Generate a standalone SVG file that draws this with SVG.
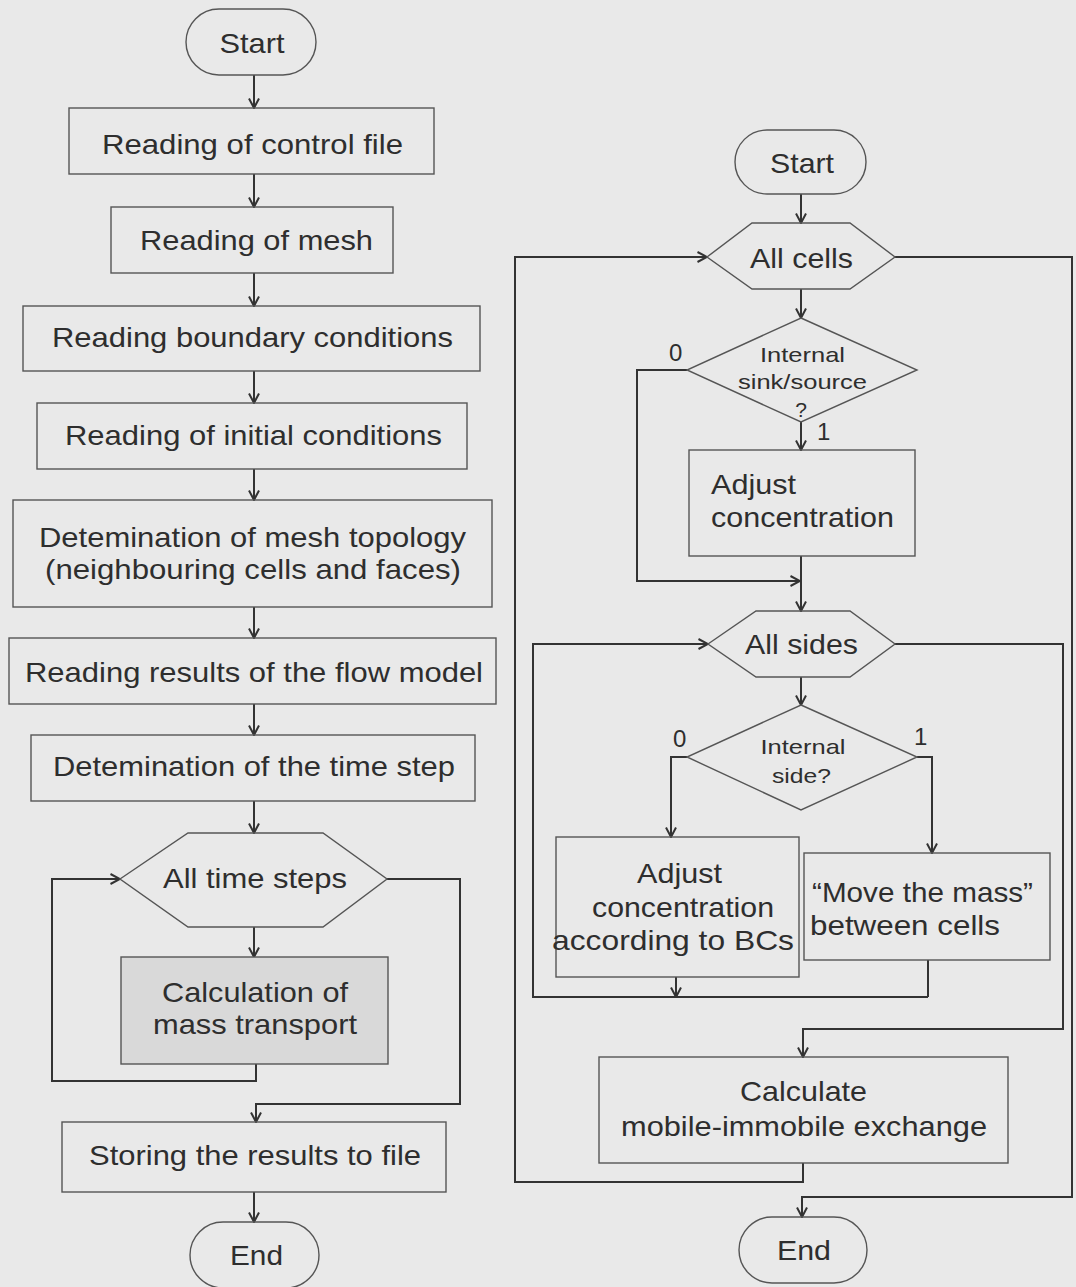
<svg xmlns="http://www.w3.org/2000/svg" width="1076" height="1287" viewBox="0 0 1076 1287">
<defs>
<marker id="arr" viewBox="0 0 12 12" refX="11" refY="6" markerWidth="12" markerHeight="12" markerUnits="userSpaceOnUse" orient="auto">
<path d="M1.5,1 L11,6 L1.5,11" fill="none" stroke="#333" stroke-width="2"/>
</marker>
<style>
.bg{fill:#e9e9e9}
.n{fill:none;stroke:#555;stroke-width:1.4}
.g{fill:#d9d9d9;stroke:#555;stroke-width:1.4}
.c{fill:none;stroke:#333;stroke-width:2}
.ca{fill:none;stroke:#333;stroke-width:2;marker-end:url(#arr)}
text{font-family:"Liberation Sans",Arial,sans-serif;fill:#2e2e2e;font-size:28px}
.m{text-anchor:middle}
.s{font-size:21px}
.d{font-size:24px}
</style>
</defs>
<rect class="bg" x="0" y="0" width="1076" height="1287"/>

<g id="connectors">
<!-- left chart -->
<line class="ca" x1="254" y1="75" x2="254" y2="108"/>
<line class="ca" x1="254" y1="174" x2="254" y2="207"/>
<line class="ca" x1="254" y1="273" x2="254" y2="306"/>
<line class="ca" x1="254" y1="371" x2="254" y2="403"/>
<line class="ca" x1="254" y1="469" x2="254" y2="500"/>
<line class="ca" x1="254" y1="607" x2="254" y2="638"/>
<line class="ca" x1="254" y1="704" x2="254" y2="735"/>
<line class="ca" x1="254" y1="801" x2="254" y2="833"/>
<line class="ca" x1="254" y1="927" x2="254" y2="957"/>
<polyline class="ca" points="256,1064 256,1081 52,1081 52,879 120,879"/>
<polyline class="ca" points="387,879 460,879 460,1104 256,1104 256,1122"/>
<line class="ca" x1="254" y1="1192" x2="254" y2="1222"/>
<!-- right chart -->
<line class="ca" x1="801" y1="194" x2="801" y2="223"/>
<line class="ca" x1="801" y1="289" x2="801" y2="318"/>
<line class="ca" x1="801" y1="422" x2="801" y2="450"/>
<line class="ca" x1="801" y1="556" x2="801" y2="611"/>
<polyline class="ca" points="687,370 637,370 637,581 800,581"/>
<line class="ca" x1="801" y1="677" x2="801" y2="705"/>
<polyline class="ca" points="687,757 671,757 671,837"/>
<polyline class="ca" points="917,757 932,757 932,853"/>
<line class="ca" x1="676" y1="977" x2="676" y2="997"/>
<polyline class="c" points="928,960 928,997"/>
<polyline class="ca" points="928,997 533,997 533,644 708,644"/>
<polyline class="ca" points="895,644 1063,644 1063,1029 803,1029 803,1057"/>
<polyline class="ca" points="803,1163 803,1182 515,1182 515,257 707,257"/>
<polyline class="ca" points="895,257 1072,257 1072,1197 802,1197 802,1217"/>
</g>

<g id="start-left">
<rect class="n" x="186" y="9" width="130" height="66" rx="33"/>
<text class="m" x="252" y="53" textLength="65" lengthAdjust="spacingAndGlyphs">Start</text>
</g>
<g id="read-control">
<rect class="n" x="69" y="108" width="365" height="66"/>
<text class="m" x="252.5" y="154" textLength="301" lengthAdjust="spacingAndGlyphs">Reading of control file</text>
</g>
<g id="read-mesh">
<rect class="n" x="111" y="207" width="282" height="66"/>
<text class="m" x="256.5" y="250" textLength="233" lengthAdjust="spacingAndGlyphs">Reading of mesh</text>
</g>
<g id="read-bc">
<rect class="n" x="23" y="306" width="457" height="65"/>
<text class="m" x="252.5" y="347" textLength="401" lengthAdjust="spacingAndGlyphs">Reading boundary conditions</text>
</g>
<g id="read-ic">
<rect class="n" x="37" y="403" width="430" height="66"/>
<text class="m" x="253.5" y="445" textLength="377" lengthAdjust="spacingAndGlyphs">Reading of initial conditions</text>
</g>
<g id="mesh-topology">
<rect class="n" x="13" y="500" width="479" height="107"/>
<text class="m" x="252.5" y="547" textLength="427" lengthAdjust="spacingAndGlyphs">Detemination of mesh topology</text>
<text class="m" x="253" y="579" textLength="416" lengthAdjust="spacingAndGlyphs">(neighbouring cells and faces)</text>
</g>
<g id="read-flow">
<rect class="n" x="9" y="638" width="487" height="66"/>
<text class="m" x="254" y="682" textLength="458" lengthAdjust="spacingAndGlyphs">Reading results of the flow model</text>
</g>
<g id="time-step">
<rect class="n" x="31" y="735" width="444" height="66"/>
<text class="m" x="254" y="776" textLength="402" lengthAdjust="spacingAndGlyphs">Detemination of the time step</text>
</g>
<g id="all-time-steps">
<polygon class="n" points="120,879 188,833 323,833 387,879 323,927 188,927"/>
<text class="m" x="255" y="888" textLength="184" lengthAdjust="spacingAndGlyphs">All time steps</text>
</g>
<g id="calc-mass">
<rect class="g" x="121" y="957" width="267" height="107"/>
<text class="m" x="255" y="1002" textLength="186" lengthAdjust="spacingAndGlyphs">Calculation of</text>
<text class="m" x="255" y="1034" textLength="204" lengthAdjust="spacingAndGlyphs">mass transport</text>
</g>
<g id="store">
<rect class="n" x="62" y="1122" width="384" height="70"/>
<text class="m" x="255" y="1165" textLength="332" lengthAdjust="spacingAndGlyphs">Storing the results to file</text>
</g>
<g id="end-left">
<rect class="n" x="190" y="1222" width="129" height="66" rx="33"/>
<text class="m" x="256.5" y="1265" textLength="53" lengthAdjust="spacingAndGlyphs">End</text>
</g>

<g id="start-right">
<rect class="n" x="735" y="130" width="131" height="64" rx="32"/>
<text class="m" x="802" y="173" textLength="64" lengthAdjust="spacingAndGlyphs">Start</text>
</g>
<g id="all-cells">
<polygon class="n" points="707,257 752,223 850,223 895,257 850,289 752,289"/>
<text class="m" x="801.5" y="268" textLength="103" lengthAdjust="spacingAndGlyphs">All cells</text>
</g>
<g id="sink-source">
<polygon class="n" points="801,318 917,370 801,422 687,370"/>
<text class="m s" x="802.5" y="362" textLength="85" lengthAdjust="spacingAndGlyphs">Internal</text>
<text class="m s" x="802.5" y="389" textLength="129" lengthAdjust="spacingAndGlyphs">sink/source</text>
<text class="m s" x="801" y="417">?</text>
<text class="d" x="669" y="361">0</text>
<text class="d" x="817" y="440">1</text>
</g>
<g id="adjust-conc">
<rect class="n" x="689" y="450" width="226" height="106"/>
<text x="711" y="494" textLength="85" lengthAdjust="spacingAndGlyphs">Adjust</text>
<text x="711" y="527" textLength="183" lengthAdjust="spacingAndGlyphs">concentration</text>
</g>
<g id="all-sides">
<polygon class="n" points="708,644 756,611 850,611 895,644 850,677 756,677"/>
<text class="m" x="801.5" y="654" textLength="113" lengthAdjust="spacingAndGlyphs">All sides</text>
</g>
<g id="internal-side">
<polygon class="n" points="801,705 917,757 801,810 687,757"/>
<text class="m s" x="803" y="754" textLength="85" lengthAdjust="spacingAndGlyphs">Internal</text>
<text class="m s" x="801.5" y="783" textLength="59" lengthAdjust="spacingAndGlyphs">side?</text>
<text class="d" x="673" y="747">0</text>
<text class="d" x="914" y="745">1</text>
</g>
<g id="adjust-bc">
<rect class="n" x="556" y="837" width="243" height="140"/>
<text class="m" x="679.5" y="883" textLength="85" lengthAdjust="spacingAndGlyphs">Adjust</text>
<text class="m" x="683" y="917" textLength="182" lengthAdjust="spacingAndGlyphs">concentration</text>
<text class="m" x="673" y="950" textLength="242" lengthAdjust="spacingAndGlyphs">according to BCs</text>
</g>
<g id="move-mass">
<rect class="n" x="804" y="853" width="246" height="107"/>
<text x="812" y="902" textLength="221" lengthAdjust="spacingAndGlyphs">“Move the mass”</text>
<text x="810" y="935" textLength="190" lengthAdjust="spacingAndGlyphs">between cells</text>
</g>
<g id="calc-exchange">
<rect class="n" x="599" y="1057" width="409" height="106"/>
<text class="m" x="803.5" y="1101" textLength="127" lengthAdjust="spacingAndGlyphs">Calculate</text>
<text class="m" x="804" y="1136" textLength="366" lengthAdjust="spacingAndGlyphs">mobile-immobile exchange</text>
</g>
<g id="end-right">
<rect class="n" x="739" y="1217" width="128" height="66" rx="33"/>
<text class="m" x="804" y="1260" textLength="54" lengthAdjust="spacingAndGlyphs">End</text>
</g>
</svg>
